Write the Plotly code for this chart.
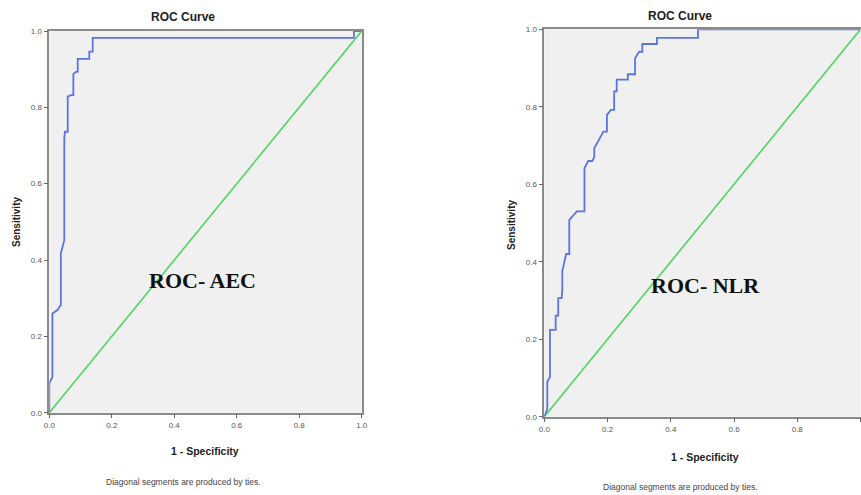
import plotly.graph_objects as go

# ROC-AEC curve (1 - specificity, sensitivity)
aec_fpr = [0.0, 0.0, 0.010, 0.010, 0.026, 0.037, 0.037, 0.048, 0.048, 0.050, 0.059, 0.059, 0.069, 0.077, 0.077, 0.085, 0.091, 0.091, 0.128, 0.128, 0.136, 0.139, 0.139, 0.975, 0.975, 1.0]
aec_tpr = [0.0, 0.077, 0.094, 0.260, 0.269, 0.282, 0.418, 0.452, 0.719, 0.736, 0.736, 0.828, 0.832, 0.832, 0.887, 0.893, 0.893, 0.927, 0.927, 0.946, 0.946, 0.946, 0.982, 0.982, 1.0, 1.0]

# ROC-NLR curve
nlr_fpr = [0.0, 0.0095, 0.0095, 0.018, 0.018, 0.036, 0.036, 0.044, 0.044, 0.055, 0.057, 0.057, 0.069, 0.079, 0.079, 0.103, 0.127, 0.127, 0.139, 0.152, 0.158, 0.158, 0.187, 0.198, 0.198, 0.211, 0.221, 0.221, 0.229, 0.229, 0.264, 0.264, 0.287, 0.287, 0.300, 0.310, 0.310, 0.356, 0.356, 0.486, 0.486, 1.0]
nlr_tpr = [0.0, 0.020, 0.090, 0.103, 0.224, 0.224, 0.261, 0.261, 0.306, 0.306, 0.330, 0.376, 0.420, 0.420, 0.508, 0.530, 0.530, 0.642, 0.660, 0.660, 0.670, 0.693, 0.736, 0.736, 0.779, 0.792, 0.792, 0.840, 0.840, 0.870, 0.870, 0.884, 0.884, 0.925, 0.942, 0.942, 0.962, 0.962, 0.978, 0.978, 1.0, 1.0]

diag = [0.0, 1.0]
ticks = [0.0, 0.2, 0.4, 0.6, 0.8, 1.0]

W, H = 861, 495
BLUE = "#5b74e2"
GREEN = "#4fd65f"

fig = go.Figure()
fig.add_trace(go.Scatter(x=diag, y=diag, mode="lines", line=dict(color=GREEN, width=1.6), xaxis="x", yaxis="y", showlegend=False))
fig.add_trace(go.Scatter(x=aec_fpr, y=aec_tpr, mode="lines", line=dict(color=BLUE, width=1.8), xaxis="x", yaxis="y", showlegend=False))
fig.add_trace(go.Scatter(x=diag, y=diag, mode="lines", line=dict(color=GREEN, width=1.6), xaxis="x2", yaxis="y2", showlegend=False))
fig.add_trace(go.Scatter(x=nlr_fpr, y=nlr_tpr, mode="lines", line=dict(color=BLUE, width=1.8), xaxis="x2", yaxis="y2", showlegend=False))

def px_x(p):
    return p / W

def px_y(p):
    return 1 - p / H

axis_common = dict(
    range=[0, 1], tickvals=ticks, tickformat=".1f", showgrid=False, zeroline=False,
    showline=True, linecolor="#8a8a8a", linewidth=1.5, mirror=True,
    ticks="outside", ticklen=4, tickcolor="#666", tickwidth=1,
    tickfont=dict(family="Liberation Sans, Arial", size=8, color="#555"),
    automargin=False,
)

fig.update_layout(
    width=W, height=H, autosize=False,
    margin=dict(l=0, r=0, t=0, b=0, pad=0, autoexpand=False),
    paper_bgcolor="white",
    plot_bgcolor="#f0f0f0",
    xaxis=dict(domain=[px_x(49.3), px_x(361.7)], anchor="y", **axis_common),
    yaxis=dict(domain=[px_y(412.7), px_y(31)], anchor="x", **axis_common),
    xaxis2=dict(domain=[px_x(544.3), px_x(860.5)], anchor="y2", **axis_common),
    yaxis2=dict(domain=[px_y(416.7), px_y(29.3)], anchor="x2", **axis_common),
)

def ann(text, x, y, size, bold=False, family="Liberation Sans, Arial", color="#222", angle=0):
    fig.add_annotation(
        text=f"<b>{text}</b>" if bold else text,
        x=px_x(x), y=px_y(y), xref="paper", yref="paper",
        showarrow=False, xanchor="center", yanchor="middle",
        font=dict(family=family, size=size, color=color), textangle=angle,
    )

# Left panel texts
ann("ROC Curve", 183, 17, 12, bold=True)
ann("Sensitivity", 16, 222, 10, bold=True, angle=-90)
ann("1 - Specificity", 205, 451, 10.5, bold=True)
ann("Diagonal segments are produced by ties.", 183, 482, 8.5, color="#444")
ann("ROC- AEC", 202, 280, 22, bold=True, family="Liberation Serif, Times New Roman", color="#111")

# Right panel texts
ann("ROC Curve", 680, 16, 12, bold=True)
ann("Sensitivity", 511, 225, 10, bold=True, angle=-90)
ann("1 - Specificity", 705, 457, 10.5, bold=True)
ann("Diagonal segments are produced by ties.", 680, 487, 8.5, color="#444")
ann("ROC- NLR", 705, 285, 22, bold=True, family="Liberation Serif, Times New Roman", color="#111")

fig.write_html(
    "out.html",
    config={"responsive": False, "displayModeBar": False},
    post_script="document.body.style.margin='0';document.body.style.padding='0';document.body.style.overflow='hidden';",
)
